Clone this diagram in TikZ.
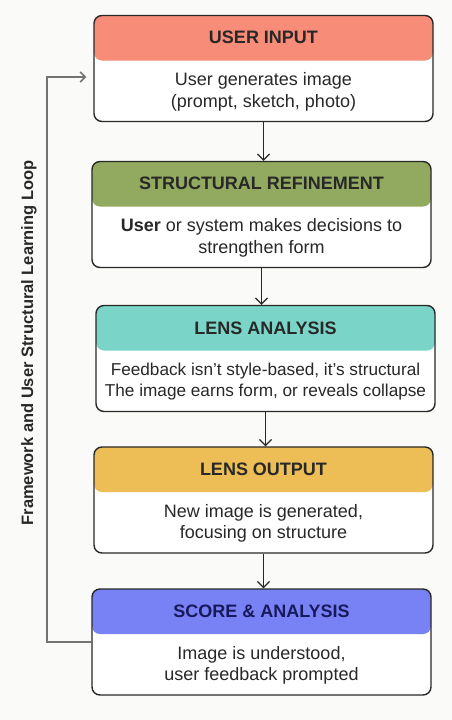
\documentclass[tikz,border=0pt]{standalone}
\usepackage{fontspec}
\setmainfont{Liberation Sans}
\usetikzlibrary{arrows.meta, positioning, calc}
\definecolor{hdrsalmon}{RGB}{247,140,120}
\definecolor{hdrolive}{RGB}{145,170,95}
\definecolor{hdrteal}{RGB}{122,212,200}
\definecolor{hdramber}{RGB}{236,190,85}
\definecolor{hdrblue}{RGB}{120,130,245}
\definecolor{mydark}{RGB}{40,40,40}
\definecolor{mynavy}{RGB}{22,26,92}
\definecolor{loopgray}{RGB}{115,115,115}
\definecolor{pagebg}{RGB}{250,250,248}
\tikzset{
  stage/.style={rectangle, draw=mydark, fill=white, line width=1.4pt,
    rounded corners=8pt, minimum width=339pt, minimum height=106pt, inner sep=0pt},
  hdr/.style={path picture={\fill[#1] (path picture bounding box.north west)
    rectangle ([yshift=-45pt]path picture bounding box.north east);}},
  title/.style={font=\fontsize{18}{21}\selectfont\bfseries, text=mydark, inner sep=0pt},
  body/.style={font=\fontsize{18}{21.5}\selectfont, text=mydark, align=center, inner sep=0pt},
  arrow/.style={-{Straight Barb[length=6pt, width=12pt]}, line width=1.2pt, color=mydark},
  loop/.style={line width=1.5pt, color=loopgray}
}

\begin{document}
\begin{tikzpicture}[x=1pt, y=-1pt]
  \useasboundingbox[fill=pagebg] (0,0) rectangle (452,720);

  % Stages
  \node[stage, hdr=hdrsalmon] (input) at (263.5,68.5) {};
  \node[stage, hdr=hdrolive] (refine) at (261.5,214.5) {};
  \node[stage, hdr=hdrteal] (lens) at (265.5,358.5) {};
  \node[stage, hdr=hdramber] (output) at (263.5,500) {};
  \node[stage, hdr=hdrblue] (score) at (261.5,642) {};

  % Titles
  \node[title] (inputtitle) at ([yshift=-23pt]input.north) {USER INPUT};
  \node[title] (refinetitle) at ([yshift=-23pt]refine.north) {STRUCTURAL REFINEMENT};
  \node[title] (lenstitle) at ([yshift=-23pt]lens.north) {LENS ANALYSIS};
  \node[title] (outputtitle) at ([yshift=-23pt]output.north) {LENS OUTPUT};
  \node[title, text=mynavy] (scoretitle) at ([yshift=-23pt]score.north) {SCORE \& ANALYSIS};

  % Texts
  \node[body] (inputbody) at ([yshift=30.5pt]input.south) {User generates image\\(prompt, sketch, photo)};
  \node[body] (refinebody) at ([yshift=30.5pt]refine.south) {\textbf{User} or system makes decisions to\\strengthen form};
  \node[body, font=\fontsize{17.2}{21.5}\selectfont] (lensbody) at ([yshift=30.5pt]lens.south) {Feedback isn’t style-based, it’s structural\\The image earns form, or reveals collapse};
  \node[body] (outputbody) at ([yshift=30.5pt]output.south) {New image is generated,\\focusing on structure};
  \node[body] (scorebody) at ([yshift=30.5pt]score.south) {Image is understood,\\user feedback prompted};

  % Flow
  \draw[arrow] (input.south) -- (input.south |- refine.north);
  \draw[arrow] (refine.south) -- (refine.south |- lens.north);
  \draw[arrow] (lens.south) -- (lens.south |- output.north);
  \draw[arrow] (output.south) -- (output.south |- score.north);

  % Loop
  \coordinate (loopin) at ([yshift=-8.5pt]input.west);
  \coordinate (looptop) at (47,77);
  \draw[loop, -{Straight Barb[length=5pt, width=10pt]}, shorten >=7pt]
    (score.west) -| (looptop) -- (loopin);
  \node[rotate=90, font=\fontsize{16.5}{18}\selectfont\bfseries, text=mydark]
    (looplabel) at (29,343) {Framework and User Structural Learning Loop};
\end{tikzpicture}
\end{document}
